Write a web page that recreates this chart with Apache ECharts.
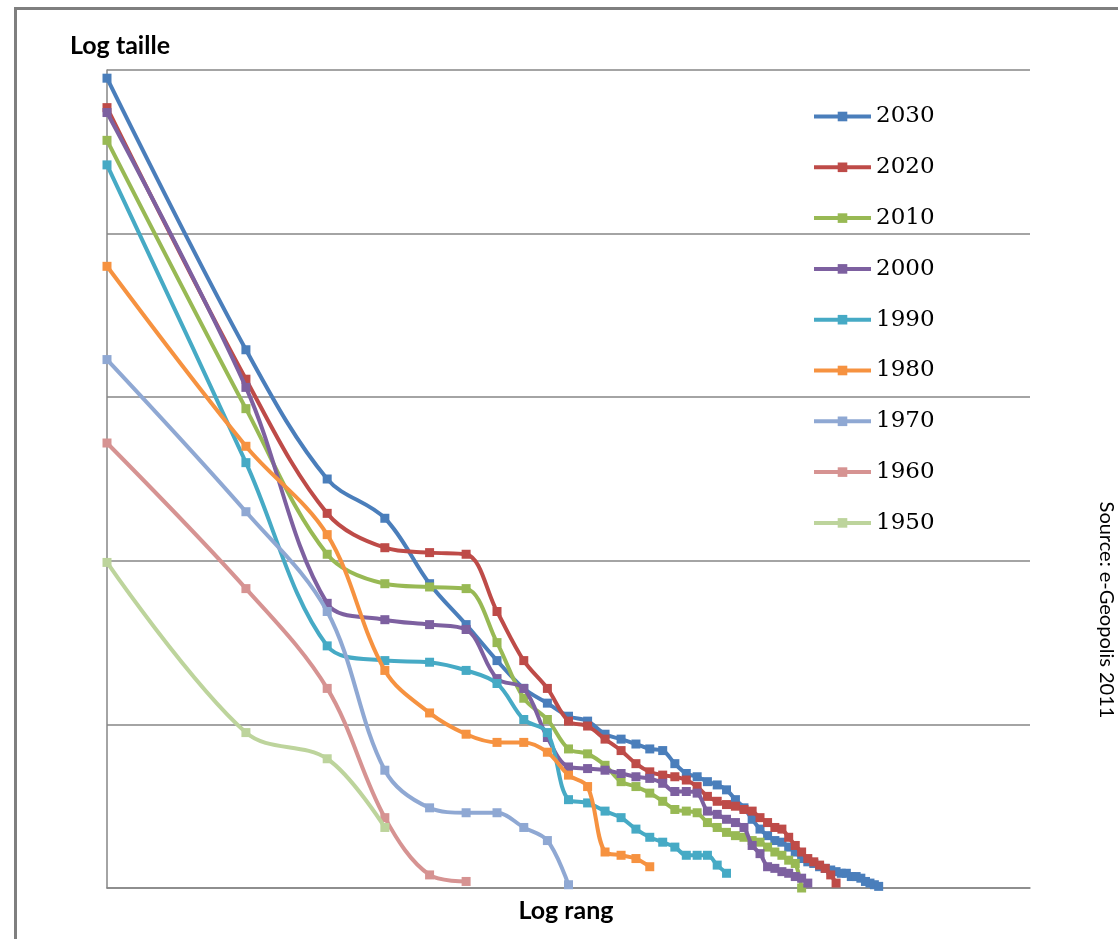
<!DOCTYPE html>
<html>
<head>
<meta charset="utf-8">
<script src="https://cdn.jsdelivr.net/npm/echarts@6/dist/echarts.min.js"></script>
<style>
html,body{margin:0;padding:0;background:#fff;}
#chart{width:1118px;height:939px;}
</style>
</head>
<body>
<div id="chart"></div>
<script>
// Values: log size in grid units (0 = bottom axis, 5 = top gridline), index i -> rank i+1
const years = ['2030','2020','2010','2000','1990','1980','1970','1960','1950'];
const s2030 = [4.95,3.29,2.50,2.26,1.86,1.61,1.39,1.22,1.13,1.05,1.02,0.94,0.91,0.88,0.85,0.84,0.76,0.70,0.68,0.65,0.63,0.60,0.54,0.49,0.42,0.36,0.32,0.29,0.28,0.25,0.22,0.18,0.16,0.15,0.13,0.12,0.11,0.10,0.09,0.09,0.07,0.07,0.06,0.04,0.03,0.02,0.01];
const s2020 = [4.77,3.11,2.29,2.08,2.05,2.04,1.69,1.39,1.22,1.02,0.99,0.91,0.84,0.76,0.71,0.69,0.68,0.66,0.62,0.56,0.53,0.51,0.50,0.48,0.47,0.43,0.40,0.37,0.36,0.31,0.26,0.22,0.18,0.16,0.14,0.12,0.08,0.03];
const s2010 = [4.57,2.93,2.04,1.86,1.84,1.83,1.50,1.16,1.03,0.85,0.82,0.75,0.65,0.62,0.58,0.53,0.48,0.47,0.46,0.40,0.37,0.34,0.32,0.31,0.29,0.28,0.25,0.22,0.20,0.17,0.15,0.00];
const s2000 = [4.74,3.06,1.74,1.64,1.61,1.58,1.28,1.22,0.92,0.74,0.73,0.72,0.70,0.68,0.67,0.64,0.59,0.59,0.58,0.47,0.45,0.42,0.40,0.37,0.26,0.21,0.13,0.12,0.10,0.09,0.07,0.06,0.03];
const s1990 = [4.42,2.60,1.48,1.39,1.38,1.33,1.25,1.03,0.95,0.54,0.52,0.47,0.43,0.36,0.31,0.28,0.25,0.20,0.20,0.20,0.14,0.09];
const s1980 = [3.80,2.70,2.16,1.33,1.07,0.94,0.89,0.89,0.83,0.69,0.62,0.22,0.20,0.18,0.13];
const s1970 = [3.23,2.30,1.69,0.72,0.49,0.46,0.46,0.37,0.29,0.02];
const s1960 = [2.72,1.83,1.22,0.43,0.08,0.04];
const s1950 = [1.99,0.95,0.79,0.37];
const seriesValues = [s2030,s2020,s2010,s2000,s1990,s1980,s1970,s1960,s1950];
const colors = ['#4A7EBB','#BE4B48','#98B954','#7D60A0','#46AAC5','#F69240','#8FA8D3','#D69392','#BDD49C'];

const chart = echarts.init(document.getElementById('chart'), null, {renderer:'canvas'});
const gridColor = '#868686';

const series = years.map((y, k) => ({
  name: y,
  type: 'line',
  data: seriesValues[k].map((v, i) => [i + 1, v]),
  smooth: 0.35,
  symbol: 'rect',
  symbolSize: 9,
  showSymbol: true,
  lineStyle: {width: 4, color: colors[k]},
  itemStyle: {color: colors[k]},
  z: 2 + k
}));

chart.setOption({
  animation: false,
  backgroundColor: '#ffffff',
  color: colors,
  grid: {left: 107, right: 88, top: 70, bottom: 51, containLabel: false},
  xAxis: {
    type: 'log', logBase: 10, min: 1, max: 100,
    axisLabel: {show: false}, axisTick: {show: false},
    splitLine: {show: false}, minorTick: {show: false},
    axisLine: {show: true, lineStyle: {color: gridColor, width: 1.5}}
  },
  yAxis: {
    type: 'value', min: 0, max: 5, interval: 1,
    axisLabel: {show: false}, axisTick: {show: false},
    axisLine: {show: true, lineStyle: {color: gridColor, width: 1.5}},
    splitLine: {show: true, lineStyle: {color: gridColor, width: 1.5}}
  },
  legend: {
    orient: 'vertical',
    left: 812, top: 105,
    padding: 0,
    itemWidth: 57, itemHeight: 12,
    itemGap: 27.8,
    lineStyle: {width: 4},
    data: years,
    textStyle: {fontFamily: 'DejaVu Serif', fontSize: 23, color: '#000', lineHeight: 22}
  },
  series: series,
  graphic: [
    {type: 'rect', shape: {x: 15.5, y: 8.5, width: 1200, height: 1000}, style: {fill: 'none', stroke: '#7f7f7f', lineWidth: 3}, silent: true, z: 100},
    {type: 'text', x: 70, y: 46, style: {text: 'Log taille', fontFamily: 'Lato', fontWeight: 'bold', fontSize: 25, fill: '#000', textAlign: 'left', textVerticalAlign: 'middle'}},
    {type: 'text', x: 566, y: 911, style: {text: 'Log rang', fontFamily: 'Lato', fontWeight: 'bold', fontSize: 25, fill: '#000', textAlign: 'center', textVerticalAlign: 'middle'}},
    {type: 'text', x: 1106, y: 610, rotation: -Math.PI / 2, style: {text: 'Source: e-Geopolis 2011', fontFamily: 'Lato', fontSize: 20, fill: '#000', textAlign: 'center', textVerticalAlign: 'middle'}}
  ]
});
</script>
</body>
</html>
